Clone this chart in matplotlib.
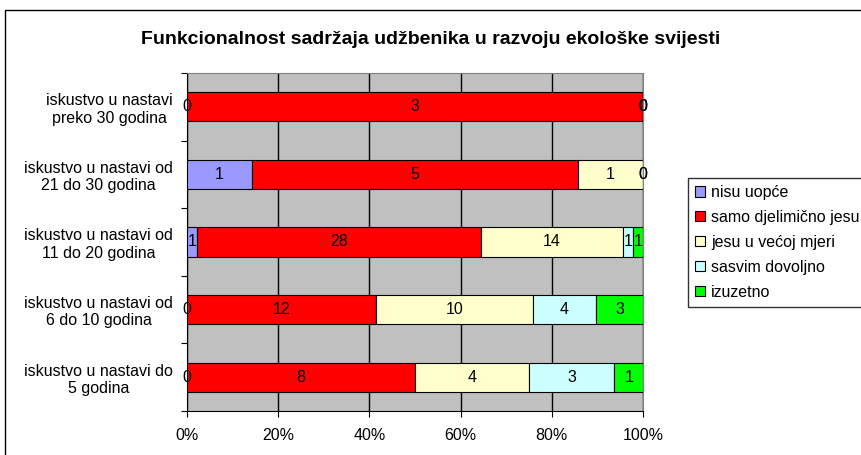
import numpy as np
import matplotlib.pyplot as plt
from matplotlib.patches import Rectangle

plt.rcParams['font.family'] = ['Liberation Sans', 'DejaVu Sans']

# categories listed bottom to top
categories = [
    'iskustvo u nastavi do\n5 godina',
    'iskustvo u nastavi od\n6 do 10 godina',
    'iskustvo u nastavi od\n11 do 20 godina',
    'iskustvo u nastavi od\n21 do 30 godina',
    'iskustvo u nastavi\npreko 30 godina',
]
series_names = ['nisu uopće', 'samo djelimično jesu', 'jesu u većoj mjeri',
                'sasvim dovoljno', 'izuzetno']
nisu_uopce = [0, 0, 1, 1, 0]
samo_djelimicno = [8, 12, 28, 5, 3]
jesu_u_vecoj = [4, 10, 14, 1, 0]
sasvim_dovoljno = [3, 4, 1, 0, 0]
izuzetno = [1, 3, 1, 0, 0]
colors = ['#9999FF', '#FF0000', '#FFFFCC', '#CCFFFF', '#00FF00']

counts = np.array([nisu_uopce, samo_djelimicno, jesu_u_vecoj,
                   sasvim_dovoljno, izuzetno], dtype=float)
totals = counts.sum(axis=0)
shares = counts / totals * 100

fs = 11.5

fig = plt.figure(figsize=(8.61, 4.55), dpi=100)
ax = fig.add_axes([0.2172, 0.0967, 0.5296, 0.7429])
ax.set_facecolor('#C0C0C0')

y = np.arange(len(categories))
left = np.zeros(len(categories))
for i, name in enumerate(series_names):
    ax.barh(y, shares[i], left=left, height=0.43, color=colors[i],
            edgecolor='black', linewidth=0.8, label=name, zorder=3)
    for j in range(len(categories)):
        xc = left[j] + shares[i][j] / 2
        ax.text(xc, y[j], f'{int(counts[i][j])}', ha='center', va='center',
                fontsize=fs, zorder=4)
    left += shares[i]

ax.set_xlim(0, 100)
ax.set_ylim(-0.5, len(categories) - 0.5)
ax.set_xticks(np.arange(0, 101, 20))
ax.set_xticklabels([f'{v}%' for v in range(0, 101, 20)], fontsize=fs)
ax.set_yticks(np.arange(-0.5, len(categories), 1), minor=False)
ax.set_yticklabels([])
ax.set_yticks(y, minor=True)
ax.set_yticklabels(categories, minor=True, fontsize=fs, multialignment='center')
ax.tick_params(axis='y', which='minor', length=0, pad=10)
ax.tick_params(axis='y', which='major', length=4, direction='out')
ax.tick_params(axis='x', length=4, direction='out', pad=8)
ax.xaxis.grid(True, color='black', linewidth=1, zorder=1)
ax.set_axisbelow(True)
for side in ['top', 'right']:
    ax.spines[side].set_color('#808080')
for side in ['left', 'bottom']:
    ax.spines[side].set_color('black')

fig.text(0.5, 0.913, 'Funkcionalnost sadržaja udžbenika u razvoju ekološke svijesti',
         ha='center', va='center', fontsize=14, fontweight='bold')

leg = ax.legend(loc='upper left', bbox_to_anchor=(0.799, 0.609),
                bbox_transform=fig.transFigure, fontsize=fs, frameon=True,
                fancybox=False, edgecolor='black', handlelength=0.6,
                handleheight=0.6, handletextpad=0.4, labelspacing=0.62,
                borderpad=0.45, borderaxespad=0)
leg.get_frame().set_linewidth(1)

fig.patches.append(Rectangle((5 / 861, -0.1), 1.2, (445 / 455) + 0.1,
                             transform=fig.transFigure, fill=False,
                             edgecolor='black', linewidth=1))

fig.savefig('out.png', dpi=100)
